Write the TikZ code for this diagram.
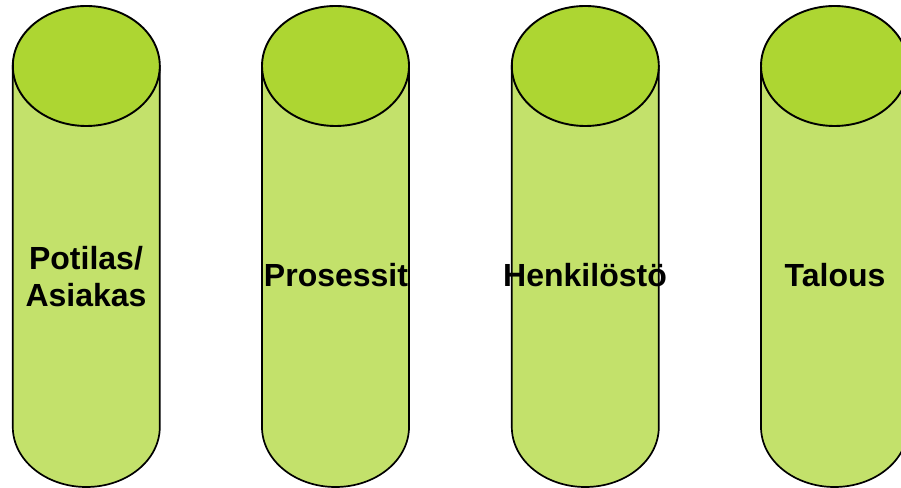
\documentclass[tikz,border=0pt]{standalone}
\usepackage{fontspec}
\setmainfont{Liberation Sans}
\usepackage{tikz}
\definecolor{lidgreen}{HTML}{ADD632}
\definecolor{pillargreen}{HTML}{C3E16B}

\begin{document}
\begin{tikzpicture}[
  x=1pt,y=1pt,
  every node/.style={font=\fontsize{32}{36.5}\selectfont\bfseries,align=center,inner sep=0pt},
  body/.style={fill=pillargreen,draw=black,line width=1.7pt},
  lid/.style={fill=lidgreen,draw=black,line width=1.9pt}
]
\useasboundingbox (0,0) rectangle (901,487);
% the four pillars
\foreach \cx in {86.3,335.5,585.3,834.5}{
  \draw[body] (\cx-73.5,421) -- (\cx-73.5,60)
    arc[start angle=180,end angle=360,x radius=73.5,y radius=60] -- (\cx+73.5,421) -- cycle;
  \draw[lid] (\cx,421) ellipse[x radius=73.5,y radius=60];
}
\node (potilas) at (86,210.3) {Potilas/\\Asiakas};
\node[anchor=base] (prosessit) at (336,200) {Prosessit};
\node[anchor=base] (henkilosto) at (585,200) {Henkilöstö};
\node[anchor=base] (talous) at (835,200) {Talous};
\end{tikzpicture}
\end{document}
